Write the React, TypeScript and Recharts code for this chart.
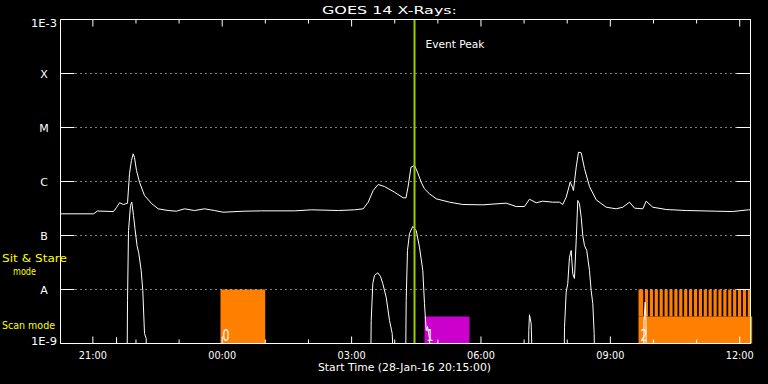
import React from "react"
import { LineChart, Line, XAxis, YAxis, ReferenceArea, ReferenceLine } from "recharts"

// hours since the start time (28-Jan-16 20:15)
const longTime = [0, 0.765, 0.858, 1.229, 1.299, 1.369, 1.461, 1.554, 1.6, 1.646, 1.686, 1.716, 1.762, 1.832, 1.948, 2.11, 2.265, 2.497, 2.69, 2.875, 3.107, 3.339, 3.571, 3.773, 4.267, 4.661, 5.426, 5.82, 6.446, 6.817, 7.019, 7.135, 7.251, 7.367, 7.513, 7.745, 7.946, 8.012, 8.058, 8.127, 8.209, 8.278, 8.364, 8.44, 8.556, 8.712, 9.02, 9.329, 9.792, 10.335, 10.567, 10.759, 10.875, 11.03, 11.184, 11.415, 11.571, 11.647, 11.726, 11.819, 11.872, 11.894, 11.958, 12.011, 12.074, 12.15, 12.266, 12.422, 12.654, 12.885, 13.039, 13.194, 13.31, 13.503, 13.581, 13.734, 14.045, 14.509, 15.204, 15.583, 15.953, 16.0]
const longFlux = [2.52e-7, 2.52e-7, 2.84e-7, 2.78e-7, 3.3e-7, 4.04e-7, 3.75e-7, 3.97e-7, 1.41e-6, 2.45e-6, 3.26e-6, 2.78e-6, 1.6e-6, 9.7e-7, 5.5e-7, 3.92e-7, 3.12e-7, 2.9e-7, 2.82e-7, 3.12e-7, 2.9e-7, 3.12e-7, 2.9e-7, 2.7e-7, 2.82e-7, 2.86e-7, 2.86e-7, 2.99e-7, 2.9e-7, 2.99e-7, 3.12e-7, 4.14e-7, 6.81e-7, 8.8e-7, 8.07e-7, 6.34e-7, 4.99e-7, 4.99e-7, 7.83e-7, 1.84e-6, 1.98e-6, 1.49e-6, 9.7e-7, 7.32e-7, 5.92e-7, 4.78e-7, 4.14e-7, 3.75e-7, 3.7e-7, 3.97e-7, 3.44e-7, 3.44e-7, 4.7e-7, 4.04e-7, 4.32e-7, 4.14e-7, 4.14e-7, 3.75e-7, 5.12e-7, 9.7e-7, 7.83e-7, 6.81e-7, 1.84e-6, 3.49e-6, 3.4e-6, 1.74e-6, 8.07e-7, 4.58e-7, 3.34e-7, 3.12e-7, 3.34e-7, 4.14e-7, 3.21e-7, 3.12e-7, 4.32e-7, 3.34e-7, 3.03e-7, 2.9e-7, 2.82e-7, 2.78e-7, 2.99e-7, 2.99e-7]

const shortTime = [0, 1.29, 1.299, 1.31, 1.542, 1.554, 1.577, 1.623, 1.653, 1.693, 1.727, 1.774, 1.816, 1.871, 1.908, 1.948, 1.987, 2.006, 7.189, 7.205, 7.242, 7.281, 7.358, 7.42, 7.474, 7.552, 7.629, 7.692, 7.74, 8.0, 8.016, 8.046, 8.093, 8.169, 8.248, 8.324, 8.401, 8.44, 8.48, 8.51, 8.556, 8.58, 10.852, 10.859, 10.875, 10.914, 10.952, 11.675, 11.687, 11.726, 11.763, 11.802, 11.842, 11.879, 11.918, 11.958, 11.995, 12.034, 12.074, 12.111, 12.15, 12.203, 12.266, 12.305, 12.343, 12.375, 12.389, 13.519, 13.53, 13.558, 13.577, 13.588, 16.0]
const shortFlux = [2e-10, 2e-10, 1.29e-9, 2e-10, 2e-10, 6.25e-9, 1.24e-7, 3.6e-7, 4.14e-7, 2.34e-7, 1.35e-7, 6.53e-8, 4.64e-8, 2.25e-8, 9.58e-9, 1.53e-9, 1.24e-9, 2e-10, 2e-10, 2.67e-9, 1.29e-8, 1.82e-8, 2.04e-8, 1.74e-8, 1.28e-8, 7.2e-9, 2.67e-9, 1.53e-9, 2e-10, 2e-10, 6.25e-9, 5.27e-8, 1.09e-7, 1.47e-7, 1.24e-7, 6.07e-8, 2.25e-8, 5.51e-9, 1.74e-9, 2.07e-9, 1.24e-9, 2e-10, 2e-10, 1.74e-9, 3.4e-9, 2.34e-9, 2e-10, 2e-10, 2.0e-9, 8.9e-9, 1.29e-8, 3.96e-8, 5.27e-8, 1.95e-8, 1.6e-8, 8.07e-8, 4.45e-7, 3.86e-7, 2.18e-7, 1.0e-7, 6.53e-8, 5.27e-8, 2.25e-8, 9.58e-9, 5.51e-9, 1.53e-9, 2e-10, 2e-10, 2.67e-9, 5.82e-9, 2.67e-9, 2e-10, 2e-10]

const hourTicks = [0.75, 1.75, 2.75, 3.75, 4.75, 5.75, 6.75, 7.75, 8.75, 9.75, 10.75, 11.75, 12.75, 13.75, 14.75, 15.75]
const majorTicks = [0.75, 3.75, 6.75, 9.75, 12.75, 15.75]
const majorLabels = ["21:00", "00:00", "03:00", "06:00", "09:00", "12:00"]

const decadeTicks = [1e-9, 1e-8, 1e-7, 1e-6, 1e-5, 1e-4, 1e-3]
const decadeLabels = ["1E-9", "A", "B", "C", "M", "X", "1E-3"]
const gridLevels = [1e-8, 1e-7, 1e-6, 1e-5, 1e-4]

// observation blocks
const obsStart = [3.71, 8.44, 13.403]
const obsEnd = [4.747, 9.484, 16.039]
const obsTop = [1e-8, 3.16e-9, 3.16e-9]
const obsColor = ["#ff8000", "#cc00cc", "#ff8000"]
const obsLabel = ["0", "1", "2"]

// sit & stare stretches inside block 2
const stareStart = [13.403, 13.551, 13.665, 13.778, 13.892, 14.006, 14.119, 14.233, 14.346, 14.46, 14.574, 14.687, 14.801, 14.915, 15.028, 15.142, 15.255, 15.369, 15.483, 15.596, 15.71, 15.823, 15.937]
const stareEnd = [13.512, 13.625, 13.739, 13.853, 13.966, 14.08, 14.193, 14.307, 14.421, 14.534, 14.648, 14.762, 14.875, 14.989, 15.102, 15.216, 15.33, 15.443, 15.557, 15.67, 15.784, 15.898, 16.0]

const eventPeak = 8.209

const W = 768
const H = 384
const LEFT = 60.5
const RIGHT = 750.5
const TOP = 19.5
const BOTTOM = 343.5
const FONT = "DejaVu Sans"

const longData = longTime.map((t, i) => ({ t, f: longFlux[i] }))
const shortData = shortTime.map((t, i) => ({ t, f: shortFlux[i] }))

const BottomTick = (props: any) => {
  const { x, payload } = props
  const i = majorTicks.indexOf(payload.value)
  return (
    <g>
      <line x1={x} x2={x} y1={BOTTOM} y2={BOTTOM - (i >= 0 ? 7 : 4)} stroke="#fff" />
      {i >= 0 && (
        <text x={x} y={358.5} textAnchor="middle" fill="#fff" fontSize={10} fontFamily={FONT} textLength={28} lengthAdjust="spacingAndGlyphs">
          {majorLabels[i]}
        </text>
      )}
    </g>
  )
}

const TopTick = (props: any) => {
  const { x, payload } = props
  const major = majorTicks.indexOf(payload.value) >= 0
  return <line x1={x} x2={x} y1={TOP} y2={TOP + (major ? 7 : 4)} stroke="#fff" />
}

const LeftTick = (props: any) => {
  const { y, payload } = props
  const i = decadeTicks.indexOf(payload.value)
  const label = decadeLabels[i]
  const ty = i === decadeTicks.length - 1 ? y + 7.5 : i === 0 ? y + 1 : y + 4.5
  return (
    <g>
      <line x1={LEFT} x2={LEFT + 14} y1={y} y2={y} stroke="#fff" />
      <text x={44} y={ty} textAnchor="middle" fill="#fff" fontSize={11} fontFamily={FONT}
        {...(label.length > 1 ? { textLength: 26, lengthAdjust: "spacingAndGlyphs" } : {})}>
        {label}
      </text>
    </g>
  )
}

const RightTick = (props: any) => {
  const { y } = props
  return <line x1={RIGHT - 14} x2={RIGHT} y1={y} y2={y} stroke="#fff" />
}

const blockLabel = (text: string) => (props: any) => {
  const vb = props.viewBox
  if (!vb) return null
  return (
    <text x={vb.x + 2} y={vb.y + vb.height - 3} fill="#fff" fontSize={16} fontFamily={FONT} textLength={7} lengthAdjust="spacingAndGlyphs">
      {text}
    </text>
  )
}

const peakLabel = (props: any) => {
  const vb = props.viewBox
  if (!vb) return null
  return (
    <text x={vb.x + 11} y={vb.y + 28} fill="#fff" fontSize={11} fontFamily={FONT} textLength={59} lengthAdjust="spacingAndGlyphs">
      Event Peak
    </text>
  )
}

export default function App() {
  return (
    <div style={{ position: "absolute", left: 0, top: 0, width: W, height: H, background: "#000", overflow: "hidden" }}>
      <LineChart width={W} height={H} data={longData}
        margin={{ top: TOP - 1, right: W - RIGHT - 1, bottom: H - BOTTOM - 1, left: LEFT - 1 }}>
        <XAxis xAxisId="bottom" type="number" dataKey="t" domain={[0, 16]} allowDataOverflow ticks={hourTicks}
          height={1} axisLine={{ stroke: "#fff" }} tickLine={false} tick={BottomTick} interval={0} />
        <XAxis xAxisId="top" orientation="top" type="number" dataKey="t" domain={[0, 16]} allowDataOverflow ticks={hourTicks}
          height={1} axisLine={{ stroke: "#fff" }} tickLine={false} tick={TopTick} interval={0} />
        <YAxis yAxisId="left" type="number" scale="log" domain={[1e-9, 1e-3]} allowDataOverflow ticks={decadeTicks}
          width={1} axisLine={{ stroke: "#fff" }} tickLine={false} tick={LeftTick} interval={0} />
        <YAxis yAxisId="right" orientation="right" type="number" scale="log" domain={[1e-9, 1e-3]} allowDataOverflow ticks={decadeTicks}
          width={1} axisLine={{ stroke: "#fff" }} tickLine={false} tick={RightTick} interval={0} />

        {obsStart.map((s, i) => (
          <ReferenceArea key={"obs" + i} xAxisId="bottom" yAxisId="left" x1={s} x2={obsEnd[i]} y1={1e-9} y2={obsTop[i]}
            fill={obsColor[i]} fillOpacity={1} stroke="none" ifOverflow="visible" label={blockLabel(obsLabel[i])} />
        ))}
        {stareStart.map((s, i) => (
          <ReferenceArea key={"st" + i} xAxisId="bottom" yAxisId="left" x1={s} x2={stareEnd[i]} y1={3.16e-9} y2={1e-8}
            fill={obsColor[2]} fillOpacity={1} stroke="none" ifOverflow="visible" />
        ))}

        {gridLevels.map((g) => (
          <ReferenceLine key={"g" + g} xAxisId="bottom" yAxisId="left" y={g} stroke="#fff" strokeDasharray="1 4" />
        ))}

        <Line xAxisId="bottom" yAxisId="left" data={longData} dataKey="f" type="linear" stroke="#fff" strokeWidth={1}
          dot={false} activeDot={false} isAnimationActive={false} />
        <Line xAxisId="bottom" yAxisId="left" data={shortData} dataKey="f" type="linear" stroke="#fff" strokeWidth={1}
          dot={false} activeDot={false} isAnimationActive={false} />

        <ReferenceLine xAxisId="bottom" yAxisId="left" x={eventPeak} stroke="#99cc00" strokeWidth={2} label={peakLabel} zIndex={450} />
      </LineChart>
      <svg width={W} height={H} style={{ position: "absolute", left: 0, top: 0, pointerEvents: "none" }}>
        <text x={322} y={13.5} fill="#fff" fontSize={11} fontFamily={FONT} textLength={135} lengthAdjust="spacingAndGlyphs">GOES 14 X-Rays:</text>
        <text x={2} y={262} fill="#ffff00" fontSize={11} fontFamily={FONT} textLength={65} lengthAdjust="spacingAndGlyphs">Sit &amp; Stare</text>
        <text x={13} y={274.5} fill="#ffff00" fontSize={11} fontFamily={FONT} textLength={23} lengthAdjust="spacingAndGlyphs">mode</text>
        <text x={2} y={328.5} fill="#ffff00" fontSize={11} fontFamily={FONT} textLength={53} lengthAdjust="spacingAndGlyphs">Scan mode</text>
        <text x={318} y={371} fill="#fff" fontSize={10.5} fontFamily={FONT} textLength={173} lengthAdjust="spacingAndGlyphs">Start Time (28-Jan-16 20:15:00)</text>
      </svg>
    </div>
  )
}
